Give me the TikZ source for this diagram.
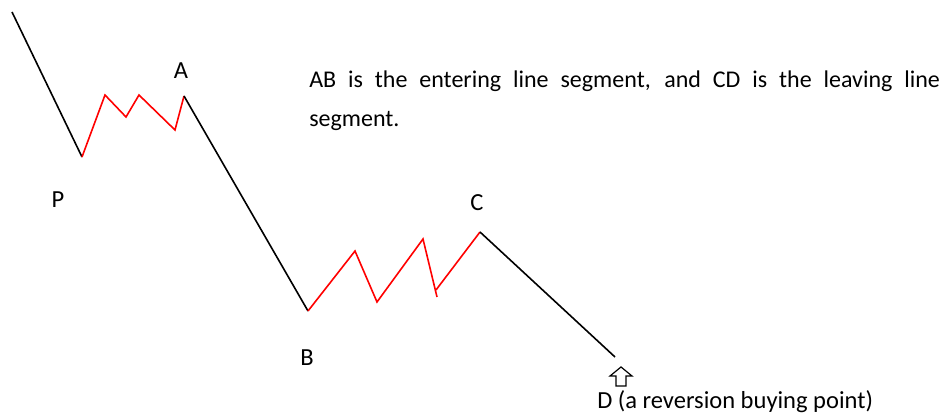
\documentclass[tikz,border=0pt]{standalone}
\usepackage{fontspec}
\setmainfont{Carlito}
\tikzset{
  wave/.style={line width=1.2pt, black},
  swing/.style={line width=1.2pt, red},
  ptlabel/.style={font=\fontsize{18.4}{21}\selectfont, inner sep=0pt}
}
\begin{document}
\begin{tikzpicture}[x=0.75pt, y=-0.75pt]
\useasboundingbox (0,0) rectangle (946,416);
% turning points
\coordinate (top) at (12,12);
\coordinate (P) at (82,157);
\coordinate (p1) at (105,95);
\coordinate (p2) at (126,117);
\coordinate (p3) at (139,95);
\coordinate (p4) at (175,130);
\coordinate (A) at (184,96);
\coordinate (B) at (308,311);
\coordinate (b1) at (355,251);
\coordinate (b2) at (377,302);
\coordinate (b3) at (423,239);
\coordinate (b4) at (437,297);
\coordinate (b5) at (436,290);
\coordinate (C) at (480,232);
\coordinate (D) at (615,357);
% legs
\draw[wave] (top) -- (P);
\draw[swing] (P) -- (p1) -- (p2) -- (p3) -- (p4) -- (A);
\draw[wave] (A) -- (B);
\draw[swing] (B) -- (b1) -- (b2) -- (b3) -- (b4);
\draw[swing] (b5) -- (C);
\draw[wave] (C) -- (D);
% labels
\node[ptlabel] (lP) at (58,200) {P};
\node[ptlabel] (lA) at (181,71) {A};
\node[ptlabel] (lB) at (307,358) {B};
\node[ptlabel] (lC) at (477,203) {C};
\node[ptlabel, anchor=base west] (lD) at (597,409) {D (a reversion buying point)};
% hollow arrow
\draw[line width=0.9pt, line join=miter] (616,386) -- (616,376) -- (610,376) -- (621,367)
  -- (632,376) -- (626,376) -- (626,386) -- cycle;
% note
\node[anchor=north west, inner sep=0pt, text width=473pt, align=justify,
  font=\fontsize{18}{29}\selectfont] (note) at (309,71)
  {AB is the entering line segment, and CD is the leaving line \mbox{segment.}};
\end{tikzpicture}
\end{document}
